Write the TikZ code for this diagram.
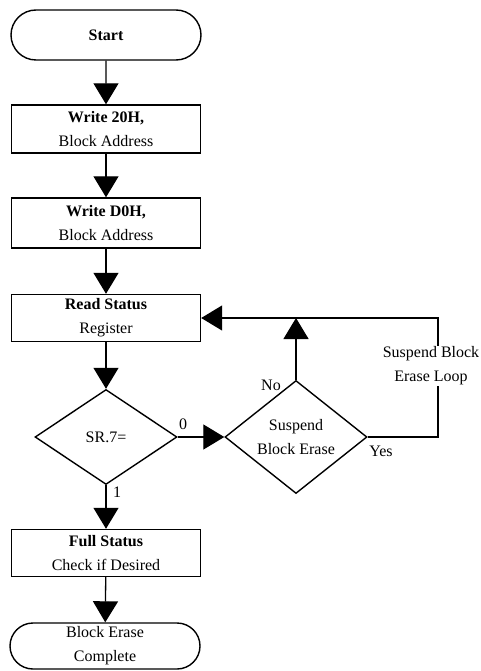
\documentclass[tikz,border=0pt]{standalone}
\usepackage{fontspec}
\setmainfont{Liberation Serif}
\usetikzlibrary{positioning,shapes.geometric,shapes.misc,arrows.meta}
\tikzset{
  every node/.style={font=\fontsize{16}{24}\selectfont},
  stepbox/.style={draw,line width=1.4pt,rectangle,minimum width=189pt,align=center,inner sep=0pt},
  termbox/.style={draw,line width=1.4pt,rounded rectangle,minimum width=190pt,align=center,inner sep=0pt},
  testbox/.style={draw,line width=1.4pt,diamond,minimum width=142pt,minimum height=95pt,align=center,inner sep=0pt},
  flow/.style={line width=1.3pt,-{Triangle[width=25pt,length=21pt]}},
  wire/.style={line width=1.3pt}
}

\begin{document}
\begin{tikzpicture}[x=1pt,y=-1pt]
  \useasboundingbox (0,0) rectangle (481,671);
  % main column
  \node[termbox,minimum height=50pt] (start) at (106,35) {\textbf{Start}};
  \node[stepbox,minimum height=48pt] (wr20) at (106,129) {\textbf{Write 20H,}\\Block Address};
  \node[stepbox,minimum height=50pt] (wrd0) at (106,223) {\textbf{Write D0H,}\\Block Address};
  \node[stepbox,minimum height=47pt] (rdsr) at (106,318) {\textbf{Read Status}\\Register};
  \node[testbox] (sr7) at (106,437) {SR.7=};
  \node[stepbox,minimum height=47pt] (full) at (106,553) {\textbf{Full Status}\\Check if Desired};
  \node[termbox,minimum height=46pt] (done) at (105,646) {Block Erase\\Complete};
  % suspend branch
  \node[testbox] (susp) at (296,437) {Suspend\\Block Erase};
  \node[align=center,inner sep=1pt] (loop) at (431,366) {Suspend Block\\Erase Loop};
  \coordinate (c1) at (438,437);
  \coordinate (c2) at (438,318);

  \draw[flow] (start) -- (wr20);
  \draw[flow] (wr20) -- (wrd0);
  \draw[flow] (wrd0) -- (rdsr);
  \draw[flow] (rdsr) -- (sr7);
  \draw[flow] (sr7.east) -- (susp.west);
  \draw[flow] (sr7.south) -- (full);
  \draw[flow] (full) -- (done);
  \draw[flow] (susp.north) -- (susp.north |- c2);
  \draw[wire] (susp.east) -- (c1) -- (c1 |- loop.south);
  \draw[flow] (c1 |- loop.north) -- (c2) -- (rdsr.east);

  % labels
  \node (zero) at (183,424) {0};
  \node (one) at (117,492) {1};
  \node (no) at (271,385) {No};
  \node (yes) at (381,451) {Yes};
\end{tikzpicture}
\end{document}
